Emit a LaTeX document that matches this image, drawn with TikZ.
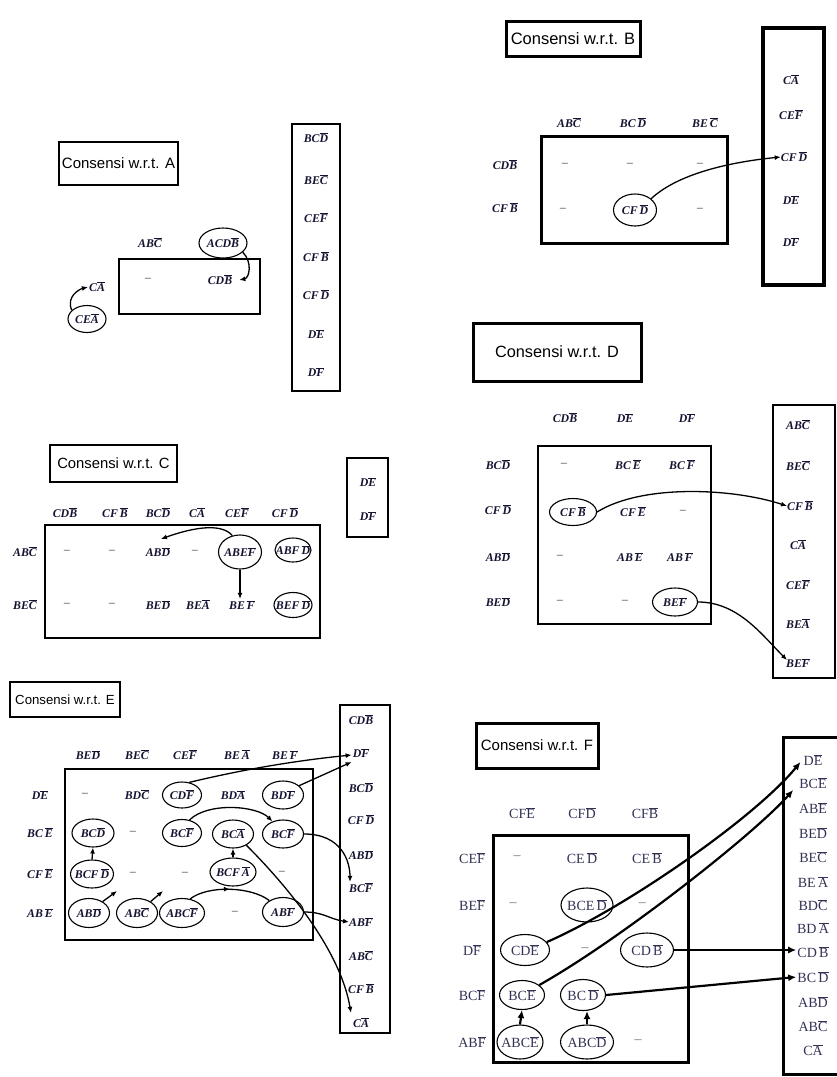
\documentclass[tikz,border=0pt]{standalone}
\usepackage{fontspec}
\setmainfont{Liberation Serif}
\newfontfamily\lsans{Liberation Sans}
\usetikzlibrary{shapes.geometric,arrows.meta,decorations.markings}
\definecolor{ink}{RGB}{20,20,50}
\definecolor{inkF}{RGB}{50,50,85}
\definecolor{dashc}{RGB}{110,110,120}
\newcommand{\ob}[1]{$\overline{\mbox{#1}}$}
\newcommand{\dsh}{\textcolor{dashc}{\textendash}}
\newcommand{\ttlf}[1]{\lsans\fontsize{#1}{#1}\selectfont}
\newcommand{\EL}[6]{\node[ell,minimum width=#4,minimum height=#5] (#1) at (#2,#3) {};\node[lab] (#1t) at (#1.center) {#6};}
\newcommand{\ELF}[6]{\node[ell,minimum width=#4,minimum height=#5] (#1) at (#2,#3) {};\node[labF] (#1t) at (#1.center) {#6};}
\begin{document}
\begin{tikzpicture}[x=1pt,y=-1pt,
  lab/.style={inner sep=1pt,text=ink,font=\fontsize{11.8}{13}\selectfont\bfseries\itshape},
  labF/.style={inner sep=1pt,text=inkF,font=\fontsize{14}{16}\selectfont},
  ell/.style={draw,ellipse,line width=1.1pt,inner sep=0pt},
  frame/.style={draw,line width=2pt},
  ttl/.style={draw,line width=2pt,inner sep=0pt},
  arr/.style={-{Latex[length=6pt,width=5pt]},line width=1.3pt},
  arrF/.style={-{Latex[length=8pt,width=7pt]},line width=2.2pt},
  midarr/.style={line width=1.3pt,decoration={markings,mark=at position 0.5 with {\arrow{Latex[length=6pt,width=5pt]}}},postaction={decorate}}
]
\useasboundingbox[fill=white] (0,0) rectangle (836,1077);

% ================= Panel A =================
\node[ttl,minimum width=119,minimum height=43,font=\ttlf{15}] (tA) at (118.5,163.5) {Consensi w.r.t. A};
\draw[frame] (119,259) rectangle (260,314);
\node[lab] (aH1) at (150,243) {AB\ob{C}};
\EL{aH2}{223}{243}{48}{30}{ACD\ob{B}}
\node[lab] (aM1) at (148,280) {\dsh};
\node[lab] (aM2) at (220,280) {CD\ob{B}};
\node[lab] (aCA) at (97,287) {C\ob{A}};
\EL{aCEA}{87}{319}{38}{27}{CE\ob{A}}
\draw[arr] (aH2.-25) .. controls +(10,10) and +(10,-2) .. ([xshift=6pt]aM2.east);
\draw[arr] (aCEA.150) .. controls +(-6,-14) and +(-8,2) .. (aCA.west);
\draw[frame] (292,124) rectangle (340,391);
\node[lab] (aL1) at (316,138) {BC\ob{D}};
\node[lab] (aL2) at (316,180) {BE\ob{C}};
\node[lab] (aL3) at (316,218) {CE\ob{F}};
\node[lab] (aL4) at (316,257) {CF\,\ob{B}};
\node[lab] (aL5) at (316,295) {CF\,\ob{D}};
\node[lab] (aL6) at (316,334) {D\ob{E}};
\node[lab] (aL7) at (316,372) {D\ob{F}};

% ================= Panel B =================
\node[ttl,line width=3pt,minimum width=134,minimum height=35,font=\ttlf{16.5}] (tB) at (573,38.5) {Consensi w.r.t. B};
\draw[frame,line width=3pt] (541,136) rectangle (727,243);
\node[lab] (bH1) at (569,123) {AB\ob{C}};
\node[lab] (bH2) at (633,123) {BC\,\ob{D}};
\node[lab] (bH3) at (705,123) {BE\,\ob{C}};
\node[lab] (bR1) at (505,165) {CD\ob{B}};
\node[lab] (bR2) at (505,208) {CF\,\ob{B}};
\node[lab] (bM11) at (565,165) {\dsh};
\node[lab] (bM12) at (630,165) {\dsh};
\node[lab] (bM13) at (700,165) {\dsh};
\node[lab] (bM21) at (563,210) {\dsh};
\EL{bE}{635}{210}{43}{32}{CF\,\ob{D}}
\node[lab] (bM23) at (700,210) {\dsh};
\draw[frame,line width=4pt] (763,28) rectangle (824,285);
\node[lab] (bL1) at (791,80) {C\ob{A}};
\node[lab] (bL2) at (791,115) {CE\ob{F}};
\node[lab] (bL3) at (794,157) {CF\,\ob{D}};
\node[lab] (bL4) at (791,200) {D\ob{E}};
\node[lab] (bL5) at (791,242) {D\ob{F}};
\draw[arr] (bE.35) .. controls +(30,-28) and +(-40,4) .. ([xshift=1pt]bL3.west);

% ================= Panel C =================
\node[ttl,minimum width=127,minimum height=37,font=\ttlf{14.8}] (tC) at (113.5,463.5) {Consensi w.r.t. C};
\draw[frame] (45,525) rectangle (320,638);
\node[lab] (cH1) at (65,513) {CD\ob{B}};
\node[lab] (cH2) at (115,513) {CF\,\ob{B}};
\node[lab] (cH3) at (158,513) {BC\ob{D}};
\node[lab] (cH4) at (197,513) {C\ob{A}};
\node[lab] (cH5) at (237,513) {CE\ob{F}};
\node[lab] (cH6) at (285,513) {CF\,\ob{D}};
\node[lab] (cR1) at (25,552) {AB\ob{C}};
\node[lab] (cR2) at (25,605) {BE\ob{C}};
\node[lab] (cM11) at (67,552) {\dsh};
\node[lab] (cM12) at (112,552) {\dsh};
\node[lab] (cM13) at (158,552) {AB\ob{D}};
\node[lab] (cM14) at (195,552) {\dsh};
\EL{cE15}{240}{552}{43}{34}{ABE\ob{F}}
\EL{cE16}{293}{550}{36}{24}{ABF\,\ob{D}}
\node[lab] (cM21) at (67,605) {\dsh};
\node[lab] (cM22) at (112,605) {\dsh};
\node[lab] (cM23) at (158,605) {BE\ob{D}};
\node[lab] (cM24) at (198,605) {BE\ob{A}};
\node[lab] (cM25) at (242,605) {BE\,\ob{F}};
\EL{cE26}{293}{605}{38}{25}{BEF\,\ob{D}}
\draw[arr] (cE15.115) .. controls +(-12,-14) and +(28,-10) .. ([xshift=3pt,yshift=7pt]cM13.north);
\draw[arr] (cE15.south) -- (cE15.south |- cM25.north);
\draw[frame] (347,458) rectangle (388,537);
\node[lab] (cL1) at (368,482) {D\ob{E}};
\node[lab] (cL2) at (368,516) {D\ob{F}};

% ================= Panel D =================
\node[ttl,line width=3pt,minimum width=168,minimum height=58,font=\ttlf{16.3}] (tD) at (557,352) {Consensi w.r.t. D};
\draw[frame,line width=2.5pt] (538,446) rectangle (711,624);
\node[lab] (dH1) at (565,418) {CD\ob{B}};
\node[lab] (dH2) at (625,418) {D\ob{E}};
\node[lab] (dH3) at (687,418) {D\ob{F}};
\node[lab] (dR1) at (498,465) {BC\ob{D}};
\node[lab] (dR2) at (498,510) {CF\,\ob{D}};
\node[lab] (dR3) at (498,557) {AB\ob{D}};
\node[lab] (dR4) at (498,602) {BE\ob{D}};
\node[lab] (dM11) at (564,465) {\dsh};
\node[lab] (dM12) at (628,465) {BC\,\ob{E}};
\node[lab] (dM13) at (682,465) {BC\,\ob{F}};
\EL{dE21}{573}{512}{47}{27}{CF\,\ob{B}}
\node[lab] (dM22) at (633,512) {CF\,\ob{E}};
\node[lab] (dM23) at (683,512) {\dsh};
\node[lab] (dM31) at (560,557) {\dsh};
\node[lab] (dM32) at (630,557) {AB\,\ob{E}};
\node[lab] (dM33) at (680,557) {AB\,\ob{F}};
\node[lab] (dM41) at (560,602) {\dsh};
\node[lab] (dM42) at (625,602) {\dsh};
\EL{dE43}{675}{602}{45}{28}{BE\ob{F}}
\draw[frame] (773,405) rectangle (835,678);
\node[lab] (dL1) at (798,425) {AB\ob{C}};
\node[lab] (dL2) at (798,466) {BE\ob{C}};
\node[lab] (dL3) at (800,506) {CF\,\ob{B}};
\node[lab] (dL4) at (798,545) {C\ob{A}};
\node[lab] (dL5) at (798,585) {CE\ob{F}};
\node[lab] (dL6) at (798,624) {BE\ob{A}};
\node[lab] (dL7) at (798,663) {BE\ob{F}};
\draw[arr] (dE21.east) .. controls +(45,-28) and +(-55,-18) .. ([xshift=1pt]dL3.west);
\draw[arr] (dE43.east) .. controls +(40,0) and +(-25,-25) .. ([xshift=2pt,yshift=3pt]dL7.west);

% ================= Panel E =================
\node[ttl,line width=2.5pt,minimum width=110,minimum height=35,font=\ttlf{13.2}] (tE) at (65,699.5) {Consensi w.r.t. E};
\draw[frame] (65,769) rectangle (313,940);
\node[lab] (eH1) at (88,755) {BE\ob{D}};
\node[lab] (eH2) at (137,755) {BE\ob{C}};
\node[lab] (eH3) at (185,755) {CE\ob{F}};
\node[lab] (eH4) at (237,755) {BE\,\ob{A}};
\node[lab] (eH5) at (285,755) {BE\,\ob{F}};
\node[lab] (eR1) at (40,795) {D\ob{E}};
\node[lab] (eR2) at (40,833) {BC\,\ob{E}};
\node[lab] (eR3) at (40,874) {CF\,\ob{E}};
\node[lab] (eR4) at (40,913) {AB\,\ob{E}};
\node[lab] (eM11) at (85,795) {\dsh};
\node[lab] (eM12) at (137,795) {BD\ob{C}};
\EL{eE13}{182}{795}{39}{26}{CD\ob{F}}
\node[lab] (eM14) at (233,795) {BD\ob{A}};
\EL{eE15}{283}{795}{41}{28}{BD\ob{F}}
\EL{eE21}{93}{833}{42}{28}{BC\ob{D}}
\node[lab] (eM22) at (133,833) {\dsh};
\EL{eE23}{182}{833}{39}{27}{BC\ob{F}}
\EL{eE24}{233}{834}{41}{28}{BC\ob{A}}
\EL{eE25}{283}{834}{41}{28}{BC\ob{F}}
\EL{eE31}{92}{874}{43}{28}{BCF\,\ob{D}}
\node[lab] (eM32) at (133,874) {\dsh};
\node[lab] (eM33) at (185,874) {\dsh};
\EL{eE34}{233}{872}{46}{28}{BCF\,\ob{A}}
\node[lab] (eM35) at (282,873) {\dsh};
\EL{eE41}{89}{913}{41}{29}{AB\ob{D}}
\EL{eE42}{137}{913}{41}{29}{AB\ob{C}}
\EL{eE43}{182}{913}{45}{29}{ABC\ob{F}}
\node[lab] (eM44) at (235,913) {\dsh};
\EL{eE45}{283}{912}{41}{29}{AB\ob{F}}
\draw[frame] (340,705) rectangle (390,1033);
\node[lab] (eL1) at (361,720) {CD\ob{B}};
\node[lab] (eL2) at (361,753) {D\ob{F}};
\node[lab] (eL3) at (361,788) {BC\ob{D}};
\node[lab] (eL4) at (361,820) {CF\,\ob{D}};
\node[lab] (eL5) at (361,855) {AB\ob{D}};
\node[lab] (eL6) at (361,888) {BC\ob{F}};
\node[lab] (eL7) at (361,922) {AB\ob{F}};
\node[lab] (eL8) at (361,956) {AB\ob{C}};
\node[lab] (eL9) at (361,989) {CF\,\ob{B}};
\node[lab] (eL10) at (361,1023) {C\ob{A}};
\coordinate (eX1) at (117,891);
\coordinate (eX2) at (163,891);
\draw[arr] (eE13.60) .. controls +(50,-12) and +(-60,6) .. ([yshift=-2pt]eL2.west);
\draw[arr] (eE15.30) -- ([yshift=-9pt]eL2.west);
\draw[arr] (eE23.60) .. controls +(18,-18) and +(-16,-16) .. (eE25.130);
\draw[arr] (eE24.-40) .. controls +(45,45) and +(-10,-60) .. ([xshift=-1pt,yshift=4pt]eL10.north west);
\draw[arr] (eE34.north) -- (eE24.south);
\draw[arr] (eE25.east) .. controls +(38,0) and +(0,-20) .. ([xshift=2pt]eL6.north west);
\draw[midarr] (eE43.60) .. controls +(18,-14) and +(-18,-14) .. (eE45.140);
\draw[arr] (eE45.east) .. controls +(20,0) and +(-20,-3) .. ([xshift=1pt]eL7.west);
\draw[arr] (eE41.40) -- (eX1);
\draw[arr] (eE42.40) -- (eX2);
\draw[arr] (eE31.north) -- (eE21.south);

% ================= Panel F =================
\node[ttl,line width=3pt,minimum width=122,minimum height=45,font=\ttlf{15}] (tF) at (537,745.5) {Consensi w.r.t. F};
\draw[frame,line width=3pt] (493,835) rectangle (688,1062);
\node[labF] (fH1) at (522,813) {CF\ob{E}};
\node[labF] (fH2) at (582,813) {CF\ob{D}};
\node[labF] (fH3) at (645,813) {CF\ob{B}};
\node[labF] (fR1) at (472,858) {CE\ob{F}};
\node[labF] (fR2) at (472,905) {BE\ob{F}};
\node[labF] (fR3) at (472,950) {D\ob{F}};
\node[labF] (fR4) at (472,995) {BC\ob{F}};
\node[labF] (fR5) at (472,1042) {AB\ob{F}};
\node[labF] (fM11) at (517,858) {\dsh};
\node[labF] (fM12) at (582,858) {CE\,\ob{D}};
\node[labF] (fM13) at (647,858) {CE\,\ob{B}};
\node[labF] (fM21) at (513,905) {\dsh};
\ELF{fE22}{587}{905}{52}{34}{BCE\,\ob{D}}
\node[labF] (fM23) at (642,905) {\dsh};
\ELF{fE31}{525}{950}{49}{31}{CD\ob{E}}
\node[labF] (fM32) at (585,950) {\dsh};
\ELF{fE33}{647}{950}{53}{34}{CD\,\ob{B}}
\ELF{fE41}{522}{995}{45}{29}{BC\ob{E}}
\ELF{fE42}{583}{995}{45}{31}{BC\,\ob{D}}
\node[labF] (fM43) at (638,995) {\dsh};
\ELF{fE51}{520}{1042}{46}{34}{ABC\ob{E}}
\ELF{fE52}{587}{1042}{53}{34}{ABC\ob{D}}
\node[labF] (fM53) at (638,1042) {\dsh};
\draw[frame,line width=3pt] (783,737) rectangle (850,1074);
\node[labF] (fL1) at (813,760) {D\ob{E}};
\node[labF] (fL2) at (813,783) {BC\ob{E}};
\node[labF] (fL3) at (813,808) {AB\ob{E}};
\node[labF] (fL4) at (813,833) {BE\ob{D}};
\node[labF] (fL5) at (813,857) {BE\ob{C}};
\node[labF] (fL6) at (813,882) {BE\,\ob{A}};
\node[labF] (fL7) at (813,905) {BD\ob{C}};
\node[labF] (fL8) at (813,928) {BD\,\ob{A}};
\node[labF] (fL9) at (813,952) {CD\,\ob{B}};
\node[labF] (fL10) at (813,977) {BC\,\ob{D}};
\node[labF] (fL11) at (813,1002) {AB\ob{D}};
\node[labF] (fL12) at (813,1026) {AB\ob{C}};
\node[labF] (fL13) at (813,1050) {C\ob{A}};
\draw[arrF] (fE31.20) .. controls +(80,-35) and +(-45,55) .. ([xshift=-2pt,yshift=-2pt]fL1.west);
\draw[arrF] (fE41.30) .. controls +(80,-45) and +(-40,45) .. ([xshift=-5pt,yshift=-7pt]fL2.west);
\draw[arrF] (fE33.east) -- (fE33.east -| fL9.west);
\draw[arrF] (fE42.east) -- (fL10.west);
\draw[arrF] (fE51.north) -- (fE41.south);
\draw[arrF] (fE52.north) -- (fE52.north |- fE42.south);
\end{tikzpicture}
\end{document}
